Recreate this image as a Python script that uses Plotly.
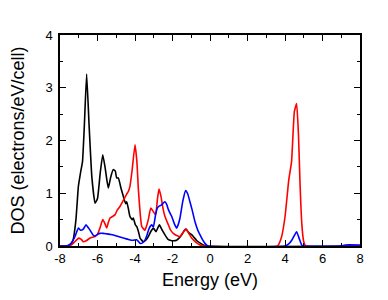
import plotly.graph_objects as go

black_E = [-8, -7.6, -7.45, -7.3, -7.15, -7.02, -6.9, -6.8, -6.7, -6.58, -6.45, -6.3, -6.13, -6.0, -5.85, -5.72, -5.6, -5.5, -5.42, -5.3, -5.16, -5.05, -4.98, -4.89, -4.75, -4.62, -4.5, -4.44, -4.35, -4.27, -4.15, -4.09, -3.98, -3.91, -3.8, -3.73, -3.56, -3.4, -3.29, -3.15, -3.02, -2.88, -2.8, -2.7, -2.55, -2.4, -2.25, -2.13, -1.95, -1.78, -1.65, -1.51, -1.4, -1.28, -1.15, -1.0, -0.89, -0.7, -0.5, -0.36, -0.2, 8]
black_D = [0, 0, 0.03, 0.12, 0.5, 1.13, 1.4, 1.6, 2.3, 3.26, 2.3, 1.3, 0.81, 0.9, 1.4, 1.73, 1.5, 1.25, 1.1, 1.3, 1.45, 1.42, 1.29, 1.29, 1.1, 0.94, 0.8, 0.84, 0.7, 0.56, 0.5, 0.53, 0.4, 0.37, 0.25, 0.15, 0.08, 0.12, 0.18, 0.28, 0.34, 0.27, 0.33, 0.4, 0.3, 0.21, 0.13, 0.11, 0.1, 0.11, 0.15, 0.21, 0.28, 0.32, 0.26, 0.22, 0.18, 0.1, 0.05, 0.02, 0, 0]

red_E = [-8, -7.5, -7.3, -7.1, -7.0, -6.85, -6.76, -6.6, -6.4, -6.13, -6.0, -5.87, -5.72, -5.6, -5.51, -5.42, -5.33, -5.2, -5.07, -4.95, -4.8, -4.6, -4.45, -4.36, -4.27, -4.15, -4.0, -3.9, -3.82, -3.72, -3.64, -3.47, -3.35, -3.29, -3.16, -3.02, -2.9, -2.8, -2.72, -2.62, -2.5, -2.4, -2.22, -2.1, -1.96, -1.78, -1.6, -1.45, -1.28, -1.15, -0.98, -0.75, -0.53, -0.35, 3.6, 3.8, 4.0, 4.2, 4.35, 4.5, 4.62, 4.72, 4.8, 4.9, 5.0, 5.1, 8]
red_D = [0, 0, 0.05, 0.12, 0.15, 0.12, 0.08, 0.1, 0.15, 0.18, 0.22, 0.34, 0.5, 0.42, 0.34, 0.45, 0.53, 0.56, 0.59, 0.68, 0.75, 0.88, 0.98, 1.03, 1.13, 1.45, 1.92, 1.6, 1.07, 0.6, 0.37, 0.3, 0.42, 0.5, 0.72, 0.65, 0.59, 0.9, 1.08, 0.95, 0.7, 0.56, 0.4, 0.3, 0.24, 0.2, 0.18, 0.25, 0.32, 0.25, 0.15, 0.07, 0.02, 0, 0, 0.15, 0.55, 1.25, 1.6, 2.55, 2.7, 2.1, 1.2, 0.4, 0.08, 0, 0]

blue_E = [-8, -7.65, -7.4, -7.2, -7.02, -6.9, -6.76, -6.61, -6.5, -6.4, -6.22, -6.13, -6.0, -5.87, -5.69, -5.5, -5.33, -5.16, -4.98, -4.8, -4.62, -4.4, -4.2, -4.09, -3.91, -3.8, -3.73, -3.6, -3.47, -3.35, -3.24, -3.11, -3.02, -2.9, -2.81, -2.7, -2.58, -2.48, -2.4, -2.3, -2.22, -2.1, -2.04, -1.9, -1.78, -1.7, -1.6, -1.45, -1.3, -1.2, -1.07, -0.95, -0.8, -0.65, -0.53, -0.4, -0.27, -0.1, 4.0, 4.2, 4.36, 4.5, 4.62, 4.75, 4.89, 5.0, 7.0, 7.2, 8]
blue_D = [0, 0, 0.05, 0.18, 0.34, 0.3, 0.32, 0.4, 0.35, 0.3, 0.2, 0.19, 0.22, 0.24, 0.24, 0.23, 0.22, 0.21, 0.19, 0.17, 0.15, 0.13, 0.11, 0.11, 0.12, 0.08, 0.05, 0.06, 0.11, 0.22, 0.34, 0.4, 0.36, 0.6, 0.72, 0.76, 0.78, 0.82, 0.84, 0.78, 0.69, 0.6, 0.56, 0.42, 0.34, 0.4, 0.53, 0.85, 1.05, 1.0, 0.84, 0.68, 0.46, 0.3, 0.21, 0.12, 0.05, 0, 0, 0.04, 0.11, 0.2, 0.27, 0.15, 0.02, 0, 0, 0.02, 0.02]

x_ticks = [-8, -6, -4, -2, 0, 2, 4, 6, 8]
y_ticks = [0, 1, 2, 3, 4]

fig = go.Figure()
for E, D, c in [(black_E, black_D, "#000000"), (red_E, red_D, "#ff0000"), (blue_E, blue_D, "#0000ff")]:
    fig.add_trace(go.Scatter(x=E, y=D, mode="lines",
                             line=dict(color=c, width=1.6, shape="spline", smoothing=0.4),
                             showlegend=False, hoverinfo="skip"))

axis_common = dict(showgrid=False, zeroline=False, showline=True, linecolor="black", linewidth=1.5,
                   mirror="ticks", ticks="inside", ticklen=6, tickwidth=1.2, tickcolor="black",
                   automargin=False,
                   tickfont=dict(family="Liberation Sans, Arial", size=13, color="black"))

fig.update_xaxes(range=[-8, 8], tickvals=x_ticks, ticktext=[str(v) for v in x_ticks],
                 minor=dict(dtick=1, tick0=0, ticks="inside", ticklen=3, tickcolor="black", tickwidth=1),
                 title=dict(text="Energy (eV)", font=dict(family="Liberation Sans, Arial", size=18, color="black"), standoff=8),
                 ticklabelstandoff=0, **axis_common)
fig.update_yaxes(range=[0, 4], tickvals=y_ticks, ticktext=[str(v) for v in y_ticks],
                 minor=dict(dtick=0.5, tick0=0, ticks="inside", ticklen=3, tickcolor="black", tickwidth=1),
                 title=dict(text="DOS (electrons/eV/cell)", font=dict(family="Liberation Sans, Arial", size=18, color="black"), standoff=21),
                 ticklabelstandoff=3, **axis_common)

fig.update_layout(width=388, height=300, margin=dict(l=52, r=36, t=27, b=62),
                  plot_bgcolor="white", paper_bgcolor="white")

fig.write_html("out.html")
